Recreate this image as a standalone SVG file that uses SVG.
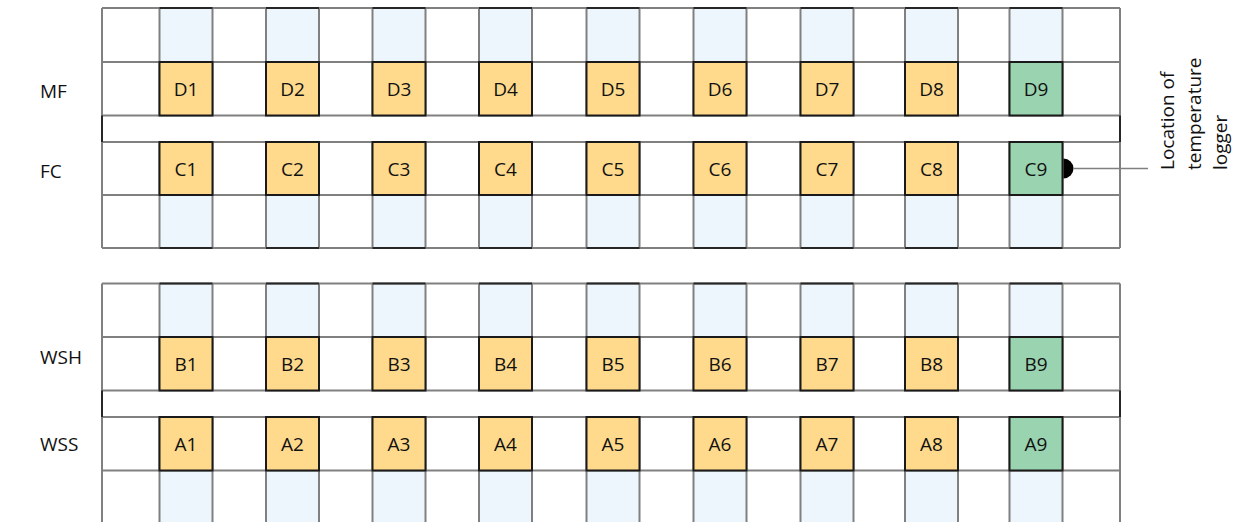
<svg xmlns="http://www.w3.org/2000/svg" width="1235" height="522" viewBox="0 0 1235 522">
<style>
.grid{fill:none;stroke:#808080;stroke-width:2}
.dark{fill:none;stroke:#262626;stroke-width:2}
.blue{fill:#EEF6FD;stroke:none}
.y rect{fill:#FFDA8C;stroke:#1a1a1a;stroke-width:2}
.g rect{fill:#99D3B0;stroke:#1a1a1a;stroke-width:2}
.t{font-family:"Open Sans","Liberation Sans",sans-serif;font-size:19px;fill:#111}
.c{text-anchor:middle}
.conn{stroke:#808080;stroke-width:1.5;fill:none}
</style>
<rect width="1235" height="522" fill="#fff"/>
<g id="grid">
<g class="blue">
<rect x="159.5" y="8" width="53" height="54"/><rect x="266" y="8" width="53" height="54"/><rect x="372.5" y="8" width="53" height="54"/><rect x="479" y="8" width="53" height="54"/><rect x="586.5" y="8" width="53" height="54"/><rect x="693.5" y="8" width="53" height="54"/><rect x="800.5" y="8" width="53" height="54"/><rect x="905" y="8" width="53" height="54"/><rect x="1009.5" y="8" width="53" height="54"/>
<rect x="159.5" y="195" width="53" height="53"/><rect x="266" y="195" width="53" height="53"/><rect x="372.5" y="195" width="53" height="53"/><rect x="479" y="195" width="53" height="53"/><rect x="586.5" y="195" width="53" height="53"/><rect x="693.5" y="195" width="53" height="53"/><rect x="800.5" y="195" width="53" height="53"/><rect x="905" y="195" width="53" height="53"/><rect x="1009.5" y="195" width="53" height="53"/>
<rect x="159.5" y="283.5" width="53" height="53.5"/><rect x="266" y="283.5" width="53" height="53.5"/><rect x="372.5" y="283.5" width="53" height="53.5"/><rect x="479" y="283.5" width="53" height="53.5"/><rect x="586.5" y="283.5" width="53" height="53.5"/><rect x="693.5" y="283.5" width="53" height="53.5"/><rect x="800.5" y="283.5" width="53" height="53.5"/><rect x="905" y="283.5" width="53" height="53.5"/><rect x="1009.5" y="283.5" width="53" height="53.5"/>
<rect x="159.5" y="470.5" width="53" height="55"/><rect x="266" y="470.5" width="53" height="55"/><rect x="372.5" y="470.5" width="53" height="55"/><rect x="479" y="470.5" width="53" height="55"/><rect x="586.5" y="470.5" width="53" height="55"/><rect x="693.5" y="470.5" width="53" height="55"/><rect x="800.5" y="470.5" width="53" height="55"/><rect x="905" y="470.5" width="53" height="55"/><rect x="1009.5" y="470.5" width="53" height="55"/>
</g>
<path class="grid" d="M102 8H1120M102 62H1120M102 115.5H1120M102 142H1120M102 195H1120M102 248H1120M102 283.5H1120M102 337H1120M102 390.5H1120M102 417H1120M102 470.5H1120"/>
<path class="grid" d="M102 8V248M1120 8V248M102 283.5V530M1120 283.5V530
M159.5 8V115.5M212.5 8V115.5M266 8V115.5M319 8V115.5M372.5 8V115.5M425.5 8V115.5M479 8V115.5M532 8V115.5M586.5 8V115.5M639.5 8V115.5M693.5 8V115.5M746.5 8V115.5M800.5 8V115.5M853.5 8V115.5M905 8V115.5M958 8V115.5M1009.5 8V115.5M1062.5 8V115.5
M159.5 142V248M212.5 142V248M266 142V248M319 142V248M372.5 142V248M425.5 142V248M479 142V248M532 142V248M586.5 142V248M639.5 142V248M693.5 142V248M746.5 142V248M800.5 142V248M853.5 142V248M905 142V248M958 142V248M1009.5 142V248M1062.5 142V248
M159.5 283.5V390.5M212.5 283.5V390.5M266 283.5V390.5M319 283.5V390.5M372.5 283.5V390.5M425.5 283.5V390.5M479 283.5V390.5M532 283.5V390.5M586.5 283.5V390.5M639.5 283.5V390.5M693.5 283.5V390.5M746.5 283.5V390.5M800.5 283.5V390.5M853.5 283.5V390.5M905 283.5V390.5M958 283.5V390.5M1009.5 283.5V390.5M1062.5 283.5V390.5
M159.5 417V530M212.5 417V530M266 417V530M319 417V530M372.5 417V530M425.5 417V530M479 417V530M532 417V530M586.5 417V530M639.5 417V530M693.5 417V530M746.5 417V530M800.5 417V530M853.5 417V530M905 417V530M958 417V530M1009.5 417V530M1062.5 417V530"/>
<path class="dark" d="M159.5 8H212.5M266 8H319M372.5 8H425.5M479 8H532M586.5 8H639.5M693.5 8H746.5M800.5 8H853.5M905 8H958M1009.5 8H1062.5
M159.5 248H212.5M266 248H319M372.5 248H425.5M479 248H532M586.5 248H639.5M693.5 248H746.5M800.5 248H853.5M905 248H958M1009.5 248H1062.5
M159.5 283.5H212.5M266 283.5H319M372.5 283.5H425.5M479 283.5H532M586.5 283.5H639.5M693.5 283.5H746.5M800.5 283.5H853.5M905 283.5H958M1009.5 283.5H1062.5
M102 115.5V142M1120 115.5V142M102 390.5V417M1120 390.5V417"/>
</g>
<g id="row-labels">
<text class="t" x="40" y="97.5">MF</text>
<text class="t" x="40" y="177.5">FC</text>
<text class="t" x="40" y="364">WSH</text>
<text class="t" x="40" y="451">WSS</text>
</g>
<g id="D1" class="y"><rect x="159.5" y="62" width="53" height="53.5"/><text class="t c" x="186" y="95.5">D1</text></g>
<g id="D2" class="y"><rect x="266" y="62" width="53" height="53.5"/><text class="t c" x="292.5" y="95.5">D2</text></g>
<g id="D3" class="y"><rect x="372.5" y="62" width="53" height="53.5"/><text class="t c" x="399" y="95.5">D3</text></g>
<g id="D4" class="y"><rect x="479" y="62" width="53" height="53.5"/><text class="t c" x="505.5" y="95.5">D4</text></g>
<g id="D5" class="y"><rect x="586.5" y="62" width="53" height="53.5"/><text class="t c" x="613" y="95.5">D5</text></g>
<g id="D6" class="y"><rect x="693.5" y="62" width="53" height="53.5"/><text class="t c" x="720" y="95.5">D6</text></g>
<g id="D7" class="y"><rect x="800.5" y="62" width="53" height="53.5"/><text class="t c" x="827" y="95.5">D7</text></g>
<g id="D8" class="y"><rect x="905" y="62" width="53" height="53.5"/><text class="t c" x="931.5" y="95.5">D8</text></g>
<g id="D9" class="g"><rect x="1009.5" y="62" width="53" height="53.5"/><text class="t c" x="1036" y="95.5">D9</text></g>
<g id="C1" class="y"><rect x="159.5" y="142" width="53" height="53"/><text class="t c" x="186" y="175.5">C1</text></g>
<g id="C2" class="y"><rect x="266" y="142" width="53" height="53"/><text class="t c" x="292.5" y="175.5">C2</text></g>
<g id="C3" class="y"><rect x="372.5" y="142" width="53" height="53"/><text class="t c" x="399" y="175.5">C3</text></g>
<g id="C4" class="y"><rect x="479" y="142" width="53" height="53"/><text class="t c" x="505.5" y="175.5">C4</text></g>
<g id="C5" class="y"><rect x="586.5" y="142" width="53" height="53"/><text class="t c" x="613" y="175.5">C5</text></g>
<g id="C6" class="y"><rect x="693.5" y="142" width="53" height="53"/><text class="t c" x="720" y="175.5">C6</text></g>
<g id="C7" class="y"><rect x="800.5" y="142" width="53" height="53"/><text class="t c" x="827" y="175.5">C7</text></g>
<g id="C8" class="y"><rect x="905" y="142" width="53" height="53"/><text class="t c" x="931.5" y="175.5">C8</text></g>
<g id="C9" class="g"><rect x="1009.5" y="142" width="53" height="53"/><text class="t c" x="1036" y="175.5">C9</text></g>
<g id="B1" class="y"><rect x="159.5" y="337" width="53" height="53.5"/><text class="t c" x="186" y="370.5">B1</text></g>
<g id="B2" class="y"><rect x="266" y="337" width="53" height="53.5"/><text class="t c" x="292.5" y="370.5">B2</text></g>
<g id="B3" class="y"><rect x="372.5" y="337" width="53" height="53.5"/><text class="t c" x="399" y="370.5">B3</text></g>
<g id="B4" class="y"><rect x="479" y="337" width="53" height="53.5"/><text class="t c" x="505.5" y="370.5">B4</text></g>
<g id="B5" class="y"><rect x="586.5" y="337" width="53" height="53.5"/><text class="t c" x="613" y="370.5">B5</text></g>
<g id="B6" class="y"><rect x="693.5" y="337" width="53" height="53.5"/><text class="t c" x="720" y="370.5">B6</text></g>
<g id="B7" class="y"><rect x="800.5" y="337" width="53" height="53.5"/><text class="t c" x="827" y="370.5">B7</text></g>
<g id="B8" class="y"><rect x="905" y="337" width="53" height="53.5"/><text class="t c" x="931.5" y="370.5">B8</text></g>
<g id="B9" class="g"><rect x="1009.5" y="337" width="53" height="53.5"/><text class="t c" x="1036" y="370.5">B9</text></g>
<g id="A1" class="y"><rect x="159.5" y="417" width="53" height="53.5"/><text class="t c" x="186" y="450.5">A1</text></g>
<g id="A2" class="y"><rect x="266" y="417" width="53" height="53.5"/><text class="t c" x="292.5" y="450.5">A2</text></g>
<g id="A3" class="y"><rect x="372.5" y="417" width="53" height="53.5"/><text class="t c" x="399" y="450.5">A3</text></g>
<g id="A4" class="y"><rect x="479" y="417" width="53" height="53.5"/><text class="t c" x="505.5" y="450.5">A4</text></g>
<g id="A5" class="y"><rect x="586.5" y="417" width="53" height="53.5"/><text class="t c" x="613" y="450.5">A5</text></g>
<g id="A6" class="y"><rect x="693.5" y="417" width="53" height="53.5"/><text class="t c" x="720" y="450.5">A6</text></g>
<g id="A7" class="y"><rect x="800.5" y="417" width="53" height="53.5"/><text class="t c" x="827" y="450.5">A7</text></g>
<g id="A8" class="y"><rect x="905" y="417" width="53" height="53.5"/><text class="t c" x="931.5" y="450.5">A8</text></g>
<g id="A9" class="g"><rect x="1009.5" y="417" width="53" height="53.5"/><text class="t c" x="1036" y="450.5">A9</text></g>
<g id="connectors">
<path d="M1063.5 158.5A10 10 0 0 1 1063.5 178.5Z" fill="#000"/>
<path class="conn" d="M1073 168.5H1148"/>
</g>
<g id="logger-label">
<text class="t" transform="translate(1174,170) rotate(-90)"><tspan x="0" y="0">Location of</tspan><tspan x="0" y="26.5">temperature</tspan><tspan x="0" y="53">logger</tspan></text>
</g>
</svg>
